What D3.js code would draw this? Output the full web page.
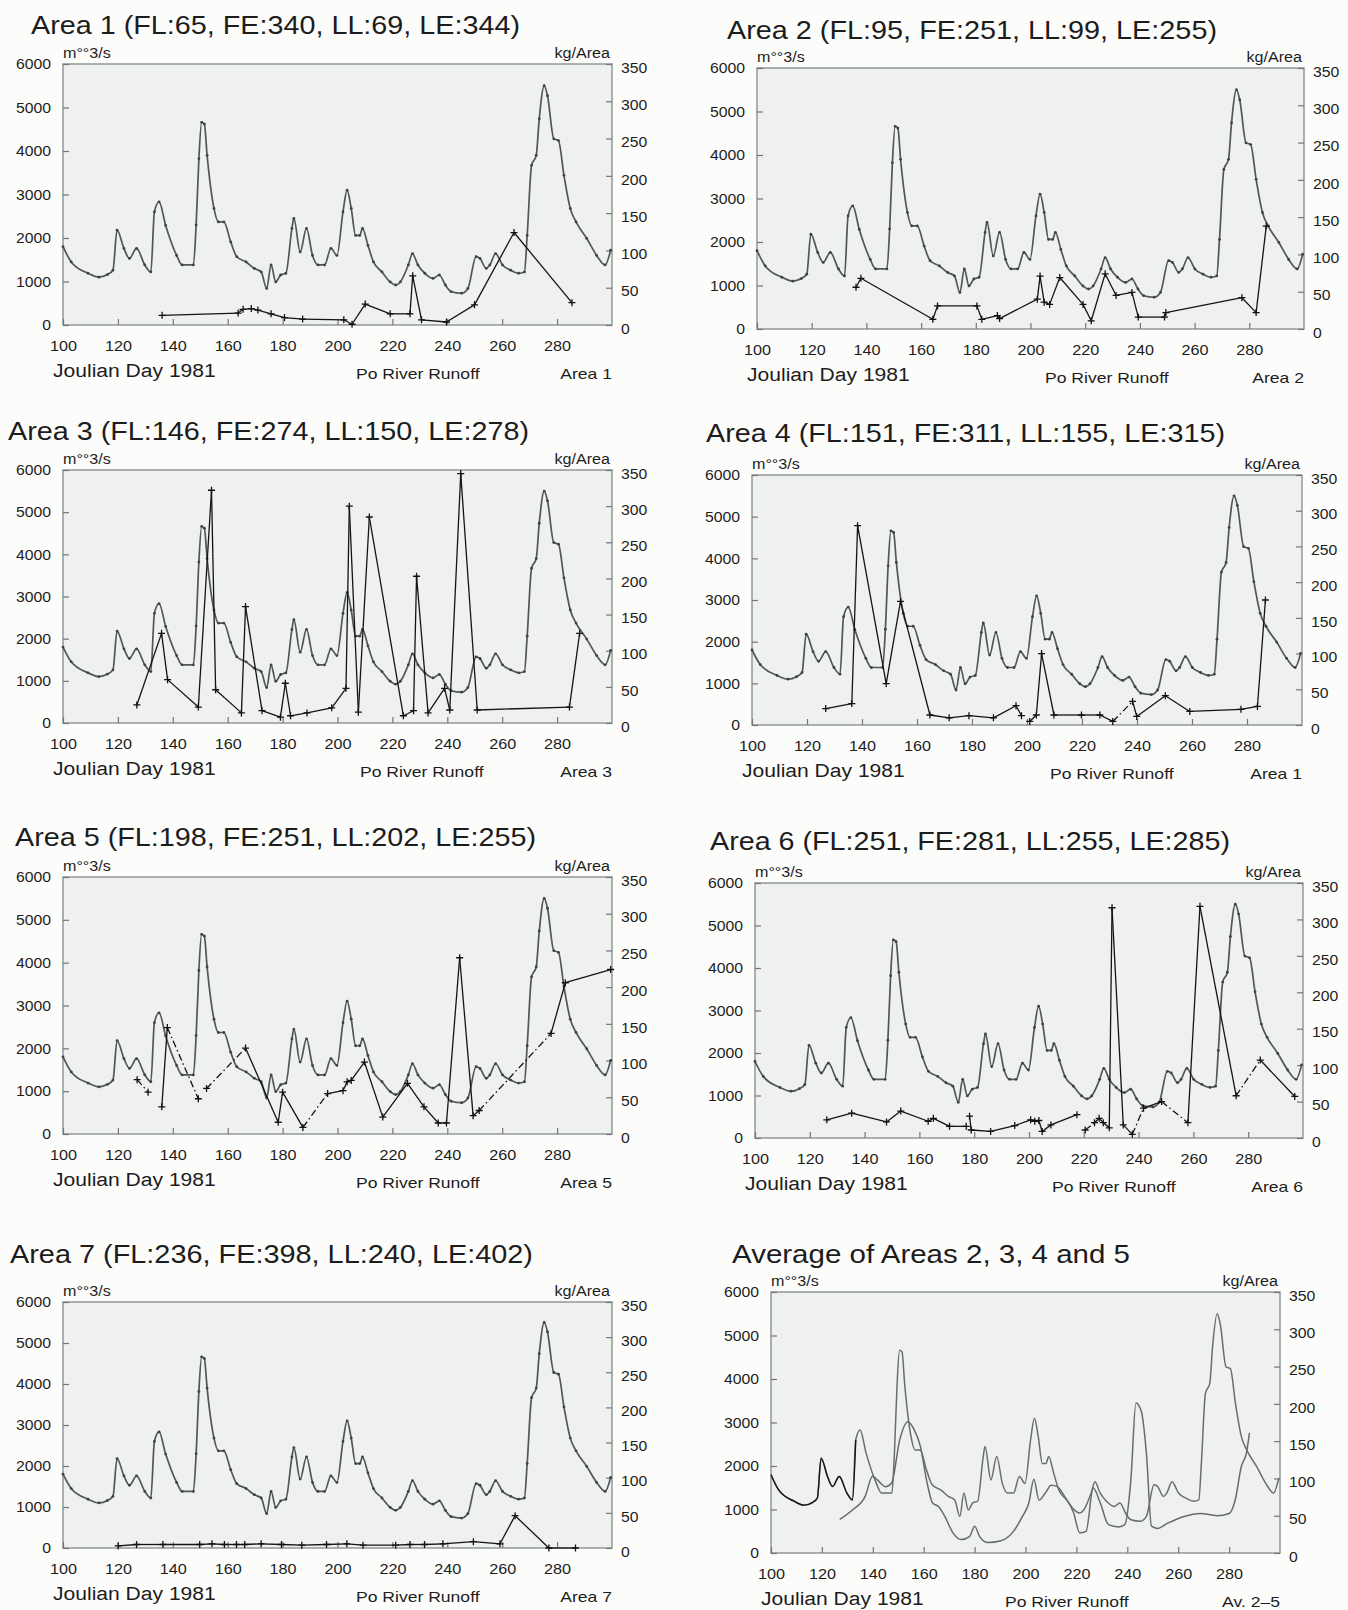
<!DOCTYPE html>
<meta charset="utf-8">
<style>
body { margin: 0; background: #fcfcfb; }
text { font-family: 'Liberation Sans', Arial, sans-serif; fill: #1c1c1c; }
.frame { fill: #eef1ee; stroke: #8a9292; stroke-width: 1.4; }
.axis path.domain { display: none; }
.axis line { stroke: #7c7474; stroke-width: 1.2; }
.axis text { font-size: 15px; fill: #1c1c1c; }
.runoff { fill: none; stroke: #525656; stroke-width: 1.7; }
.seg { stroke: #141414; stroke-width: 1.3; }
</style>
<svg id="chart" width="1348" height="1610"></svg>
<script src="https://d3js.org/d3.v7.min.js"></script>
<script>
// Po River runoff (m3/s), same curve in every panel
var runoffDay = [100,103,109.1,113.1,116.2,118.2,119.7,122.2,124.2,126.8,129.8,132,133.3,135,137.4,141.4,143.4,147.5,148.5,149.5,150.5,151.5,152.5,155,156.6,158.6,161.1,163.3,166.7,169.7,172.2,174.2,175.8,177.5,179.3,181.2,183.4,184.1,186.4,188.7,190.9,192.9,195.3,197.6,199.8,202,203.5,205,206.6,208.1,209.1,211.1,213.1,216.2,219.2,221.2,222.9,225.8,227.3,229.3,231.8,234.8,237.1,239.3,241.4,245.2,247.5,250.5,251.9,254.2,255.5,257.6,260.1,263.1,266,268.1,269.1,270.7,272.4,273.5,275.3,276.5,278.8,280.5,282.5,284.8,286.9,290.8,294.4,297.5,299.5];
var runoffFlow = [1800,1450,1190,1100,1160,1260,2180,1760,1530,1760,1380,1220,2600,2830,2290,1600,1380,1380,2300,3820,4660,4620,3900,2680,2370,2370,1910,1570,1450,1300,1220,840,1380,990,1150,1190,2220,2450,1680,2220,1600,1380,1380,1760,1600,2600,3100,2680,2060,2060,2220,1830,1450,1220,990,920,990,1380,1640,1380,1190,1070,1150,920,765,730,840,1570,1530,1300,1380,1640,1380,1260,1190,1220,2060,3670,3900,4740,5500,5270,4280,4240,3440,2680,2370,1990,1600,1380,1720];

// kg/Area per area (null = break in the line)
var area1Day = [136.1,163.8,165.6,168.6,171,175.8,180.7,187.3,202.3,205.3,210.1,219.2,226.4,227.4,230.6,239.7,249.9,264.3,285.4];
var area1Kg  = [13,16,21,22,20,15,10,8,7,1,28,15,15,66,7,4,27,124,30];

var area2Day = [136.2,138,164.3,166,180.4,182.2,187.9,188.7,202.5,203.5,205,207,210.7,219.2,222.2,227.3,231.3,237.1,239.4,249,249.5,277.3,282.5,286.2];
var area2Kg  = [56,68,13,31,31,13,18,14,40,71,36,33,69,33,11,74,45,49,16,16,22,42,22,138];

var area3Day = [126.9,135.9,138.1,149.3,154.1,155.6,165,166.5,172.5,179.2,181,182.9,188.9,197.9,203.1,204.3,207.6,211.6,224,227.7,228.8,233,239,240.9,244.9,250.9,284.5,288.2];
var area3Kg  = [25,124,60,22,322,46,14,161,17,8,55,10,14,21,48,300,15,285,10,17,203,14,48,18,345,18,22,124];

var area4Day = [126.8,136.3,138.4,148.8,154,164.7,171.7,178.9,187.8,196,198,199.5,201,203.4,205.3,209.8,219.8,226.5,231.2,238.4,239.9,250.3,259.2,277.8,283.8,286.7];
var area4Kg  = [23,30,279,58,173,14,10,13,10,27,13,null,5,14,100,14,14,14,5,33,12,41,19,22,26,175];

var area5Day = [127,131,133,136,138,149.3,150.5,152.3,166.5,178.4,180,187.4,196.4,202,203.5,205,209.8,216.5,225.5,231.5,236.7,239.7,244.5,249.4,251.6,277.8,283,299.5];
var area5Kg  = [74,57,null,37,145,48,null,62,117,16,57,9,55,59,71,73,98,23,69,37,15,15,240,25,32,137,206,224];

var area6Day = [126.2,135.3,148,153.2,163.2,165.1,171,177.1,177.7,178.3,178.9,186,194.8,200.6,202.1,203.6,204.8,208,217.5,219,220.5,223.9,225.6,227.1,229.3,230.3,234.4,237.7,241.8,248.4,258,262.4,275.6,284.4,297];
var area6Kg  = [25,34,22,37,23,27,16,16,null,30,11,9,17,25,23,24,9,18,32,null,11,21,27,21,14,316,18,5,41,50,21,318,58,107,57];

var area7Day = [120.1,126.8,136.4,149.8,154.3,158.8,163.2,166.2,172.2,179.6,187,196,203.4,209.3,221.2,226.4,231.7,238.4,249.5,259.2,264.7,277,286.7];
var area7Kg  = [3,5,5,5,6,5,5,5,6,5,4,5,6,4,4,5,5,6,9,6,46,0,0];

var avgDay = [127,132.1,137,139.9,141.8,145,147.4,150.6,153.8,156.3,158.7,161.1,163.5,165.9,168.3,171.5,174.7,178,180,182,185.2,190,194.8,198.8,201.3,203.3,205.3,207.7,210.1,212.5,215.7,218.9,221.3,223.8,226.6,229.4,232.6,236.6,239,241.4,243.4,245.5,247.5,249.5,251.9,255.9,262.3,268.8,275.2,280,282.4,284.8,286.8,288];
var avgKg  = [45,58,76,103,98,89,94,152,176,165,143,98,67,62,49,27,18,22,36,22,14,16,27,49,67,99,71,80,91,89,74,54,27,29,87,67,38,35,38,98,201,190,134,36,33,40,49,53,50,53,71,116,134,161];

var titles = [
  "Area 1 (FL:65, FE:340, LL:69, LE:344)",
  "Area 2 (FL:95, FE:251, LL:99, LE:255)",
  "Area 3 (FL:146, FE:274, LL:150, LE:278)",
  "Area 4 (FL:151, FE:311, LL:155, LE:315)",
  "Area 5 (FL:198, FE:251, LL:202, LE:255)",
  "Area 6 (FL:251, FE:281, LL:255, LE:285)",
  "Area 7 (FL:236, FE:398, LL:240, LE:402)",
  "Average of Areas 2, 3, 4 and 5"
];
var tags = ["Area 1","Area 2","Area 3","Area 1","Area 5","Area 6","Area 7","Av. 2\u20135"];
var flowTicks = [0,1000,2000,3000,4000,5000,6000];
var kgTicks = [0,50,100,150,200,250,300,350];
var dayTicks = [100,120,140,160,180,200,220,240,260,280];

// layout: plot box [left, top, right, bottom], title position and width, "Po River Runoff" x
var panels = [
  {day: area1Day, kg: area1Kg, dashed: [], box: [63,64,612,325], tx: 31, ty: 34, tw: 489, po: 356},
  {day: area2Day, kg: area2Kg, dashed: [], box: [757,68,1304,329], tx: 727, ty: 39, tw: 490, po: 1045},
  {day: area3Day, kg: area3Kg, dashed: [], box: [63,470,612,723], tx: 8, ty: 440, tw: 521, po: 360},
  {day: area4Day, kg: area4Kg, dashed: [18], box: [752,475,1302,725], tx: 706, ty: 442, tw: 519, po: 1050},
  {day: area5Day, kg: area5Kg, dashed: [0,4,7,11,24], box: [63,877,612,1134], tx: 15, ty: 846, tw: 521, po: 356},
  {day: area6Day, kg: area6Kg, dashed: [20,27,29,32], box: [755,883,1303,1138], tx: 710, ty: 850, tw: 520, po: 1052},
  {day: area7Day, kg: area7Kg, dashed: [], box: [63,1302,612,1548], tx: 10, ty: 1263, tw: 523, po: 356},
  {day: avgDay, kg: avgKg, dashed: [], box: [771,1292,1280,1553], tx: 732, ty: 1263, tw: 398, po: 1005, smooth: true}
];

var svg = d3.select("#chart");
svg.append("rect").attr("width", 1348).attr("height", 1610).attr("fill", "#fcfcfb");

function stretch(sel, k) {
  sel.each(function () {
    var w = this.getComputedTextLength();
    d3.select(this).attr("textLength", w * k).attr("lengthAdjust", "spacingAndGlyphs");
  });
}

var runoffPts = runoffDay.map(function (d, i) { return [d, runoffFlow[i]]; });

panels.forEach(function (p, pi) {
  var L = p.box[0], T = p.box[1], R = p.box[2], B = p.box[3];
  var x = d3.scaleLinear().domain([100, 300]).range([L, R]);
  var yL = d3.scaleLinear().domain([0, 6000]).range([B, T]);
  var yR = d3.scaleLinear().domain([0, 350]).range([B, T]);
  var g = svg.append("g");

  g.append("rect").attr("class", "frame")
    .attr("x", L).attr("y", T).attr("width", R - L).attr("height", B - T);

  var ax = g.append("g").attr("class", "axis").attr("transform", "translate(0," + B + ")")
    .call(d3.axisBottom(x).tickValues(dayTicks).tickSize(-6).tickPadding(15).tickFormat(d3.format("d")));
  var al = g.append("g").attr("class", "axis").attr("transform", "translate(" + L + ",0)")
    .call(d3.axisLeft(yL).tickValues(flowTicks).tickSize(-6).tickPadding(12).tickFormat(d3.format("d")));
  var ar = g.append("g").attr("class", "axis").attr("transform", "translate(" + R + ",0)")
    .call(d3.axisRight(yR).tickValues(kgTicks).tickSize(-6).tickPadding(9).tickFormat(d3.format("d")));
  ar.selectAll("text").attr("dy", "0.55em");
  stretch(ax.selectAll("text"), 1.08);
  stretch(al.selectAll("text"), 1.05);
  stretch(ar.selectAll("text"), 1.05);

  // runoff
  var line = d3.line().curve(d3.curveMonotoneX)
    .x(function (d) { return x(d[0]); }).y(function (d) { return yL(d[1]); });
  g.append("path").attr("class", "runoff").attr("d", line(runoffPts))
    .style("stroke", p.smooth ? "#6a6d6d" : null).style("stroke-width", p.smooth ? 1.5 : null);
  if (p.smooth) {
    g.append("path").attr("class", "runoff").style("stroke", "#151515").style("stroke-width", 1.4)
      .attr("d", line(runoffPts.filter(function (d) { return d[0] <= 133.3; })));
  } else {
    g.selectAll(".rdot").data(runoffPts).enter().append("circle")
      .attr("cx", function (d) { return x(d[0]); })
      .attr("cy", function (d) { return yL(d[1]); })
      .attr("r", 1.4).attr("fill", "#3f4242");
  }

  // kg/Area series
  var pts = p.day.map(function (d, i) { return [d, p.kg[i]]; });
  if (p.smooth) {
    var sl = d3.line().curve(d3.curveMonotoneX)
      .x(function (d) { return x(d[0]); }).y(function (d) { return yR(d[1]); });
    g.append("path").attr("fill", "none").attr("stroke", "#686b6b").attr("stroke-width", 1.5).attr("d", sl(pts));
  } else {
    for (var i = 0; i < pts.length - 1; i++) {
      if (pts[i][1] == null || pts[i + 1][1] == null) continue;
      g.append("line").attr("class", "seg")
        .attr("x1", x(pts[i][0])).attr("y1", yR(pts[i][1]))
        .attr("x2", x(pts[i + 1][0])).attr("y2", yR(pts[i + 1][1]))
        .attr("stroke-dasharray", p.dashed.indexOf(i) >= 0 ? "7,3,1.5,3" : null);
    }
    g.selectAll(".mk").data(pts.filter(function (d) { return d[1] != null; })).enter().append("path")
      .attr("transform", function (d) { return "translate(" + x(d[0]) + "," + yR(d[1]) + ")"; })
      .attr("d", "M-3.5,0H3.5M0,-3.5V3.5").attr("stroke", "#111").attr("stroke-width", 1.3);
  }

  // texts
  g.append("text").attr("x", p.tx).attr("y", p.ty).style("font-size", "25px")
    .attr("textLength", p.tw).attr("lengthAdjust", "spacingAndGlyphs").text(titles[pi]);
  stretch(g.append("text").attr("x", L).attr("y", T - 6).style("font-size", "14px").text("m\u00b0\u00b03/s"), 1.15);
  stretch(g.append("text").attr("x", R - 2).attr("y", T - 6).attr("text-anchor", "end").style("font-size", "14px").text("kg/Area"), 1.15);
  stretch(g.append("text").attr("x", L - 10).attr("y", B + 52).style("font-size", "18px").text("Joulian Day 1981"), 1.17);
  stretch(g.append("text").attr("x", p.po).attr("y", B + 54).style("font-size", "15px").text("Po River Runoff"), 1.17);
  stretch(g.append("text").attr("x", R).attr("y", B + 54).attr("text-anchor", "end").style("font-size", "15px").text(tags[pi]), 1.17);
});
</script>
